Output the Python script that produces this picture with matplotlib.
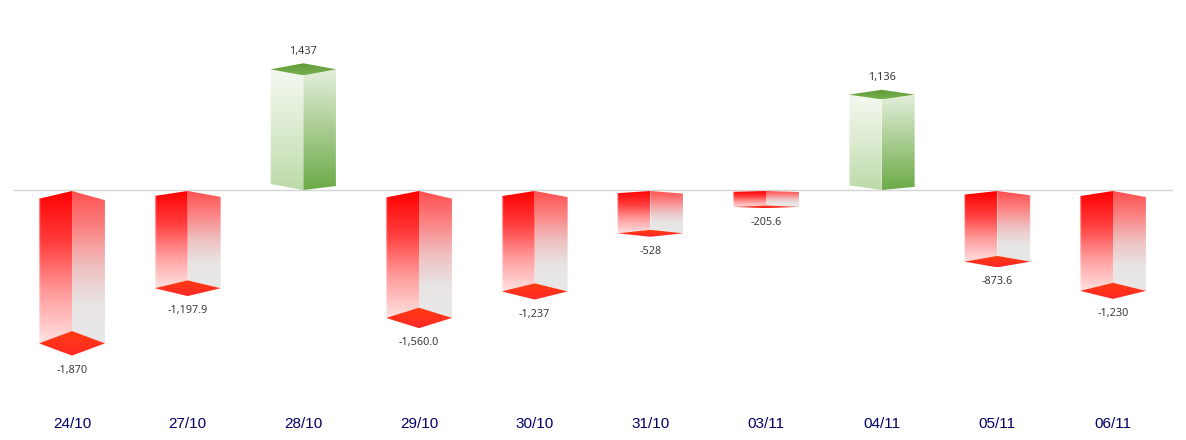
import numpy as np
from matplotlib import pyplot as plt
from matplotlib.colors import LinearSegmentedColormap
from matplotlib.patches import Polygon

dates = ['24/10', '27/10', '28/10', '29/10', '30/10', '31/10', '03/11', '04/11', '05/11', '06/11']
values = [-1870, -1197.9, 1437, -1560.0, -1237, -528, -205.6, 1136, -873.6, -1230]
value_labels = ['-1,870', '-1,197.9', '1,437', '-1,560.0', '-1,237', '-528', '-205.6', '1,136', '-873.6', '-1,230']

PX_W, PX_H = 1186, 440
ZERO_PX = 190.0      # where value 0 sits
PX_PER_UNIT = 0.082
POS_STRETCH = 1.024  # up bars are drawn a bit taller in the 3d view
SLOT_PX = 115.67
FIRST_PX = 72.0
HALF_W = 33 / SLOT_PX

red_left = LinearSegmentedColormap.from_list('rl', ['#ff0000', '#ff3c3c', '#ff9a9a', '#ffe0e0'])
red_right = LinearSegmentedColormap.from_list('rr', ['#ff5050', '#fb8484', '#efc0c0', '#e8e4e4', '#e8e8e8'])
red_floor = LinearSegmentedColormap.from_list('rf', ['#ff3c10', '#ff2828'])
green_left = LinearSegmentedColormap.from_list('gl', ['#f4f8f0', '#dcebd0', '#bcdaa8'])
green_right = LinearSegmentedColormap.from_list('gr', ['#e4efdc', '#a8cc90', '#6cab48'])
green_top = LinearSegmentedColormap.from_list('gt', ['#5c9a34', '#78b050'])


def px(n):
    return n / PX_PER_UNIT


def grad_face(ax, pts, cmap):
    # vertical gradient clipped to the polygon
    pts = np.array(pts)
    grad = np.linspace(0, 1, 128).reshape(-1, 1)
    extent = [pts[:, 0].min(), pts[:, 0].max(), pts[:, 1].min(), pts[:, 1].max()]
    im = ax.imshow(grad, cmap=cmap, extent=extent, origin='upper', aspect='auto', zorder=2, interpolation='bilinear')
    poly = Polygon(pts, closed=True, transform=ax.transData, facecolor='none', edgecolor='none')
    ax.add_patch(poly)
    im.set_clip_path(poly)


def outer_edges(ax, x, low_l, high_l, low_r, high_r):
    # pale fringe on the outer sides
    ax.plot([x - HALF_W] * 2, [low_l, high_l], color='white', alpha=0.45, lw=1, zorder=3)
    ax.plot([x + HALF_W] * 2, [low_r, high_r], color='white', alpha=0.45, lw=1, zorder=3)


def draw_negative(ax, x, v):
    d = abs(v) * 0.08
    back = v + d
    left_top = -0.05 * abs(v) - px(1)
    right_top = -0.06 * abs(v) - px(1)
    start = px(-1)
    grad_face(ax, [(x - HALF_W, left_top), (x, start), (x, back), (x - HALF_W, v)], red_left)
    grad_face(ax, [(x + HALF_W, right_top), (x, start), (x, back), (x + HALF_W, v)], red_right)
    grad_face(ax, [(x - HALF_W, v), (x, back), (x + HALF_W, v), (x, v - d)], red_floor)
    outer_edges(ax, x, v, left_top, v, right_top)


def draw_positive(ax, x, v):
    v = v * POS_STRETCH
    d = v * 0.05
    front = v - d
    left_low = v * 0.05
    right_low = v * 0.033
    grad_face(ax, [(x - HALF_W, v), (x, front), (x, 0), (x - HALF_W, left_low)], green_left)
    grad_face(ax, [(x + HALF_W, v), (x, front), (x, 0), (x + HALF_W, right_low)], green_right)
    grad_face(ax, [(x - HALF_W, v), (x, v + d), (x + HALF_W, v), (x, front)], green_top)
    outer_edges(ax, x, left_low, v, right_low, v)


fig = plt.figure(figsize=(PX_W / 100, PX_H / 100), dpi=100)
ax = fig.add_axes([0, 0, 1, 1])

x_pos = np.arange(len(dates))
for x, v, lab in zip(x_pos, values, value_labels):
    if v < 0:
        draw_negative(ax, x, v)
        y_lab = v - abs(v) * 0.08 - px(14.5)
    else:
        draw_positive(ax, x, v)
        y_lab = v * POS_STRETCH * 1.05 + px(12)
    ax.text(x, y_lab, lab, ha='center', va='center', fontsize=7.8, color='#3a3a3a', family='Noto Sans')
    ax.text(x, px(ZERO_PX - 424), dates[x], ha='center', va='center', fontsize=11, color='#000066', family='Liberation Sans')

# axis line at zero
ax.plot([(14 - FIRST_PX) / SLOT_PX, (1172 - FIRST_PX) / SLOT_PX], [0, 0], color='#d4d4d4', lw=1, zorder=1)

ax.set_xlim(-FIRST_PX / SLOT_PX, (PX_W - FIRST_PX) / SLOT_PX)
ax.set_ylim(px(ZERO_PX - PX_H), px(ZERO_PX))
ax.axis('off')

plt.savefig('out.png', dpi=100)
